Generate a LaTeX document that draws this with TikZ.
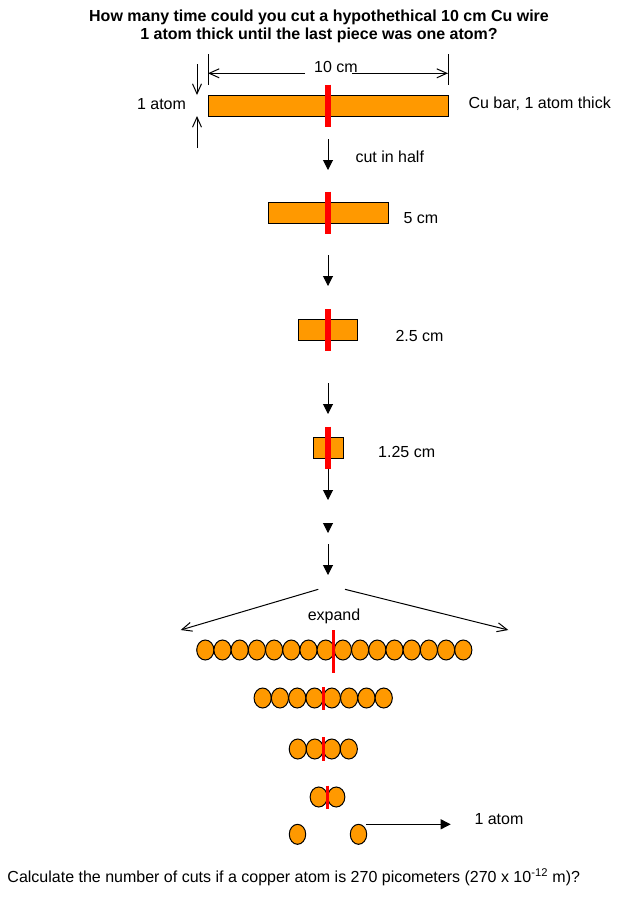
\documentclass[tikz,border=0pt]{standalone}
\usepackage{fontspec}
\setmainfont{Liberation Sans}
\usetikzlibrary{arrows.meta,shapes.geometric,positioning}
\definecolor{cuorange}{RGB}{255,153,0}
\tikzset{
  bar/.style={draw,fill=cuorange,rectangle,inner sep=0pt,outer sep=0pt,minimum height=21},
  atom/.style={draw,fill=cuorange,ellipse,inner sep=0pt,outer sep=0pt,minimum width=17.2,minimum height=20},
  cutline/.style={draw=red,line width=5.5pt},
  cutthin/.style={draw=red,line width=3.5pt},
  downarrow/.style={-{Triangle[length=10pt,width=10pt]}},
  openarrow/.style={-{Straight Barb[length=10pt,width=9pt]}},
  txt/.style={inner sep=0pt,font=\fontsize{16}{19}\selectfont},
  ttl/.style={inner sep=0pt,font=\fontsize{16}{19}\selectfont\bfseries},
}
\begin{document}
\begin{tikzpicture}[x=1pt,y=-1pt,line width=1pt]
\useasboundingbox (0,0) rectangle (632,898);

\draw (319,17.5) node[ttl] (t1) {How many time could you cut a hypothethical 10 cm Cu wire};
\draw (319,35) node[ttl] (t2) {1 atom thick until the last piece was one atom?};

% the 10 cm bar
\draw (328,105.5) node[bar,minimum width=240] (b1) {};
\draw[cutline] ([yshift=10.5pt]b1.north) -- ([yshift=-10.5pt]b1.south);
\draw (336,67) node[txt] (len) {10 cm};
\coordinate (dl) at (208,54);
\coordinate (dr) at (448,54);
\draw (dl) -- (b1.north west|-0,85);
\draw (dr) -- (448,85);
\coordinate (dl1) at (305,73.3);
\coordinate (dr1) at (352,73.3);
\draw[openarrow] (dl1) -- (dl|-dl1);
\draw[openarrow] (dr1) -- (dr|-dr1);
\coordinate (th1) at (197,64);
\coordinate (th2) at (197,148);
\draw[openarrow] (th1) -- (th1|-b1.north);
\draw[openarrow] (th2) -- (th2|-b1.south);
\draw (161.5,104) node[txt] (atomlbl) {1 atom};
\draw (468,104) node[txt,anchor=west] (barlbl) {Cu bar, 1 atom thick};

% halving
\coordinate (a1s) at (328,139);
\coordinate (a1e) at (328,170);
\draw[downarrow] (a1s) -- (a1e);
\draw (355,157) node[txt,anchor=west] (cutlbl) {cut in half};

\draw (328,212.5) node[bar,minimum width=120] (b2) {};
\draw[cutline] ([yshift=10.5pt]b2.north) -- ([yshift=-10.5pt]b2.south);
\draw (403,217.7) node[txt,anchor=west] (l2) {5 cm};

\coordinate (a2s) at (328,255);
\coordinate (a2e) at (328,286);
\draw[downarrow] (a2s) -- (a2e);

\draw (328,330) node[bar,minimum width=59] (b3) {};
\draw[cutline] ([yshift=10.5pt]b3.north) -- ([yshift=-10.5pt]b3.south);
\draw (395,336) node[txt,anchor=west] (l3) {2.5 cm};

\coordinate (a3s) at (328,383);
\coordinate (a3e) at (328,414);
\draw[downarrow] (a3s) -- (a3e);

\draw (328,447.5) node[bar,minimum width=30] (b4) {};
\draw[cutline] ([yshift=10.5pt]b4.north) -- ([yshift=-10.5pt]b4.south);
\draw (377.7,451.7) node[txt,anchor=west] (l4) {1.25 cm};

\coordinate (a4e) at (328,500);
\draw[downarrow] ([yshift=-10.5pt]b4.south) -- (a4e);
\coordinate (a5s) at (328,523);
\coordinate (a5e) at (328,533);
\draw[downarrow] (a5s) -- (a5e);
\coordinate (a6s) at (328,544);
\coordinate (a6e) at (328,575);
\draw[downarrow] (a6s) -- (a6e);

% expand
\coordinate (el) at (318.3,589.3);
\coordinate (el1) at (180.7,630);
\coordinate (er) at (345,589.3);
\coordinate (er1) at (508.3,630);
\draw[openarrow] (el) -- (el1);
\draw[openarrow] (er) -- (er1);
\draw (334,616.7) node[txt] (exp) {expand};

% atoms
\foreach \i in {0,...,15}
  \draw (205.3+17.2*\i,650) node[atom] (r1-\i) {};
\draw[cutthin] (333.3,630) -- (333.3,673.3);
\foreach \i in {0,...,7}
  \draw (262.65+17.3*\i,698) node[atom] (r2-\i) {};
\draw[cutthin] (323.3,687) -- (323.3,710);
\foreach \i in {0,...,3}
  \draw (297.8+17*\i,749) node[atom] (r3-\i) {};
\draw[cutthin] (323.3,737.3) -- (323.3,760.7);
\foreach \i in {0,1}
  \draw (318.75+17.5*\i,797) node[atom] (r4-\i) {};
\draw[cutthin] (327.3,785.7) -- (327.3,809);
\draw (297.5,834.3) node[atom,minimum width=16.4] (r5-0) {};
\draw (358.5,834.3) node[atom,minimum width=16.4] (r5-1) {};
\coordinate (one) at (450.7,824.3);
\draw[downarrow] ([xshift=2pt]r5-1.north east|-one) -- (one);
\draw (474,819) node[txt,anchor=west] (onelbl) {1 atom};

\draw (7,877) node[txt,anchor=west] (q) {Calculate the number of cuts if a copper atom is 270 picometers (270 x 10\textsuperscript{-12} m)?};
\end{tikzpicture}
\end{document}
